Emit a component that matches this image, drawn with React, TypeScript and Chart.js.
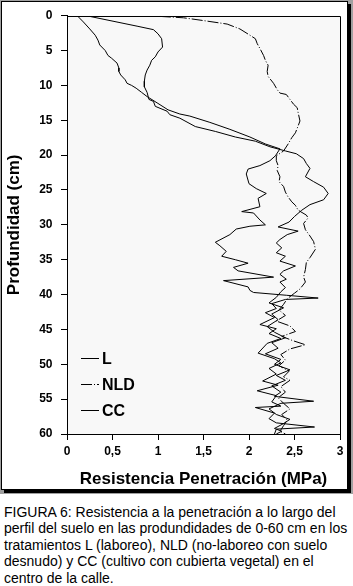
import React, { useEffect, useRef } from "react";
import { Chart, registerables } from "chart.js";

Chart.register(...registerables);

// Series names (legend order)
const seriesNames = ["L", "NLD", "CC"];

// X-axis tick labels (MPa, comma decimal)
const xTickLabels = ["0", "0,5", "1", "1,5", "2", "2,5", "3"];

// Each series: [depth (cm), resistance (MPa)]
const serieL: [number, number][] = [
  [0.1, 0.12], [0.9, 0.18], [1.9, 0.25], [2.8, 0.31], [3.5, 0.34], [4.2, 0.36], [5.0, 0.42],
  [5.7, 0.45], [6.1, 0.49], [6.8, 0.55], [7.5, 0.57], [8.0, 0.57], [8.5, 0.59], [9.2, 0.64],
  [9.7, 0.66], [10.0, 0.71], [10.4, 0.76], [11.0, 0.82], [11.6, 0.88], [12.5, 0.99], [13.5, 1.11],
  [14.1, 1.24], [14.4, 1.35], [15.3, 1.57], [16.3, 1.79], [17.4, 2.01], [18.4, 2.18], [19.1, 2.34],
  [20.1, 2.29], [20.8, 2.23], [21.5, 2.12], [22.0, 1.99], [22.7, 1.97], [24.1, 2.0], [24.8, 2.08],
  [25.5, 2.19], [26.2, 2.1], [27.4, 2.12], [28.1, 1.92], [28.3, 2.05], [29.3, 2.12], [30.0, 2.18],
  [30.2, 2.01], [30.6, 1.86], [31.4, 1.79], [32.5, 1.63], [33.0, 1.68], [33.8, 1.75], [34.5, 1.7],
  [35.0, 1.85], [35.5, 1.99], [36.1, 1.83], [36.6, 1.88], [37.5, 2.27], [38.0, 1.72], [38.9, 1.99],
  [39.4, 2.01], [39.7, 2.05], [40.1, 2.41], [40.5, 2.76], [40.7, 2.4], [41.3, 2.25], [42.0, 2.3],
  [42.6, 2.18], [43.3, 2.28], [44.3, 2.12], [44.9, 2.3], [45.6, 2.22], [46.3, 2.35], [47.0, 2.2],
  [48.4, 2.1], [49.2, 2.28], [49.8, 2.35], [50.6, 2.22], [51.4, 2.3], [52.4, 2.15], [53.0, 2.32],
  [53.8, 2.09], [54.5, 2.3], [55.4, 2.25], [56.0, 2.35], [56.2, 2.07], [57.0, 2.28], [57.8, 2.22],
  [58.4, 2.3], [59.0, 2.72], [59.3, 2.3], [60.0, 2.28],
];

const serieNLD: [number, number][] = [
  [0.1, 1.02], [0.3, 1.28], [0.7, 1.5], [1.2, 1.76], [1.9, 1.9], [2.8, 2.01], [3.3, 2.07],
  [4.0, 2.09], [4.7, 2.12], [5.7, 2.16], [6.4, 2.18], [7.1, 2.21], [8.0, 2.2], [8.7, 2.21],
  [9.7, 2.27], [10.6, 2.31], [11.1, 2.34], [11.3, 2.41], [12.0, 2.45], [12.7, 2.49], [13.2, 2.53],
  [13.9, 2.54], [15.1, 2.56], [15.8, 2.54], [16.8, 2.51], [17.5, 2.47], [18.4, 2.43], [19.4, 2.38],
  [20.1, 2.3], [20.8, 2.3], [21.5, 2.32], [22.2, 2.31], [23.1, 2.34], [23.8, 2.33], [24.5, 2.38],
  [25.3, 2.4], [26.0, 2.43], [26.7, 2.47], [27.2, 2.51], [27.9, 2.54], [28.6, 2.63], [29.0, 2.65],
  [29.8, 2.6], [30.7, 2.62], [31.6, 2.67], [32.4, 2.71], [33.5, 2.73], [34.7, 2.67], [35.4, 2.63],
  [36.4, 2.62], [37.5, 2.6], [38.2, 2.62], [39.2, 2.56], [39.8, 2.5], [40.6, 2.42], [41.4, 2.38],
  [42.2, 2.33], [43.0, 2.4], [43.8, 2.3], [44.5, 2.45], [45.3, 2.51], [46.0, 2.36], [46.6, 2.48],
  [47.2, 2.62], [47.8, 2.45], [48.6, 2.35], [49.4, 2.4], [50.2, 2.33], [51.0, 2.44], [51.8, 2.38],
  [52.3, 2.45], [53.2, 2.35], [54.0, 2.4], [54.8, 2.32], [55.6, 2.38], [56.4, 2.45], [57.2, 2.36],
  [58.0, 2.42], [58.8, 2.38], [59.6, 2.34], [60.0, 2.4],
];

const serieCC: [number, number][] = [
  [0.1, 0.25], [1.5, 0.77], [2.0, 0.95], [2.6, 1.0], [3.3, 1.04], [4.5, 1.05], [5.2, 1.0],
  [5.9, 0.97], [6.4, 0.93], [7.1, 0.91], [7.8, 0.88], [8.5, 0.86], [9.4, 0.85], [10.2, 0.85],
  [11.0, 0.88], [12.0, 0.9], [12.3, 0.95], [13.0, 0.97], [13.7, 1.1], [14.2, 1.13], [14.7, 1.24],
  [15.9, 1.41], [16.6, 1.63], [17.4, 1.85], [18.0, 2.07], [18.8, 2.23], [19.4, 2.4], [19.8, 2.52],
  [20.5, 2.6], [21.2, 2.63], [21.9, 2.67], [23.1, 2.62], [23.8, 2.71], [24.6, 2.82], [25.5, 2.87],
  [26.4, 2.82], [27.1, 2.67], [27.9, 2.58], [28.8, 2.5], [29.6, 2.44], [30.3, 2.32], [30.9, 2.54],
  [31.4, 2.42], [32.1, 2.34], [32.6, 2.3], [33.3, 2.36], [34.0, 2.3], [34.5, 2.4], [35.2, 2.34],
  [35.9, 2.51], [36.6, 2.38], [37.1, 2.34], [37.8, 2.41], [38.2, 2.34], [39.0, 2.4], [39.6, 2.35],
  [40.4, 2.3], [41.2, 2.22], [41.9, 2.38], [42.8, 2.25], [43.6, 2.32], [44.6, 2.2], [45.4, 2.28],
  [46.2, 2.4], [46.9, 2.25], [47.7, 2.32], [48.5, 2.18], [49.3, 2.35], [50.0, 2.28], [50.8, 2.45],
  [51.6, 2.3], [52.3, 2.4], [53.1, 2.25], [54.0, 2.35], [54.6, 2.28], [55.3, 2.71], [55.6, 2.35],
  [56.4, 2.22], [57.2, 2.3], [57.9, 2.45], [58.5, 2.38], [59.2, 2.28], [59.6, 2.36], [60.0, 2.3],
];

const seriesData = [serieL, serieNLD, serieCC];
const seriesDash: number[][] = [[], [11, 2, 1, 2], []];

const FONT = "'Liberation Sans', Arial, sans-serif";

const plotBgPlugin = {
  id: "plotBg",
  beforeDraw(chart: any) {
    const { ctx, chartArea } = chart;
    ctx.save();
    ctx.fillStyle = "#f8f8f8";
    ctx.fillRect(chartArea.left, chartArea.top, chartArea.right - chartArea.left, chartArea.bottom - chartArea.top);
    ctx.restore();
  },
  afterDraw(chart: any) {
    const { ctx, chartArea } = chart;
    ctx.save();
    ctx.strokeStyle = "#000";
    ctx.lineWidth = 1;
    ctx.beginPath();
    ctx.moveTo(Math.round(chartArea.left) + 0.5, Math.round(chartArea.top) + 0.5);
    ctx.lineTo(Math.round(chartArea.right) + 0.5, Math.round(chartArea.top) + 0.5);
    ctx.lineTo(Math.round(chartArea.right) + 0.5, Math.round(chartArea.bottom) + 0.5);
    ctx.stroke();
    ctx.restore();
  },
};

const innerLegendPlugin = {
  id: "innerLegend",
  afterDatasetsDraw(chart: any) {
    const { ctx, chartArea } = chart;
    ctx.save();
    chart.data.datasets.forEach((ds: any, i: number) => {
      const y = Math.round(chartArea.top + 342 + i * 26.2) + 0.5;
      const x0 = chartArea.left + 14;
      ctx.strokeStyle = "#000";
      ctx.lineWidth = 1;
      ctx.setLineDash(ds.borderDash || []);
      ctx.beginPath();
      ctx.moveTo(x0, y);
      ctx.lineTo(x0 + 18, y);
      ctx.stroke();
      ctx.setLineDash([]);
      ctx.fillStyle = "#000";
      ctx.font = `bold 16px ${FONT}`;
      ctx.textBaseline = "middle";
      ctx.textAlign = "left";
      ctx.fillText(ds.label, x0 + 21, y + 1);
    });
    ctx.restore();
  },
};

function FigureChart() {
  const ref = useRef<HTMLCanvasElement | null>(null);
  useEffect(() => {
    if (!ref.current) return;
    const tickFont = { family: FONT, size: 12, weight: "bold" as const };
    const chart = new Chart(ref.current, {
      type: "scatter",
      data: {
        datasets: seriesData.map((s, i) => ({
          label: seriesNames[i],
          data: s.map(([d, v]) => ({ x: v, y: d })),
          showLine: true,
          borderColor: "#000",
          backgroundColor: "#000",
          borderWidth: 1,
          borderDash: seriesDash[i],
          pointRadius: 0,
          pointHoverRadius: 0,
          tension: 0,
          fill: false,
        })),
      },
      options: {
        animation: false,
        responsive: false,
        events: [],
        layout: { padding: { top: 10, right: 13, bottom: 0, left: 0 } },
        plugins: { legend: { display: false }, tooltip: { enabled: false } },
        scales: {
          x: {
            type: "linear",
            position: "bottom",
            min: 0,
            max: 3,
            ticks: {
              stepSize: 0.5,
              autoSkip: false,
              maxRotation: 0,
              color: "#000",
              font: tickFont,
              padding: 4.5,
              callback: (_v: any, i: number) => xTickLabels[i],
            },
            grid: { drawOnChartArea: false, drawTicks: true, tickLength: 6, color: "#000", lineWidth: 1 },
            border: { display: true, color: "#000", width: 1 },
            title: {
              display: true,
              text: "Resistencia Penetración (MPa)",
              color: "#000",
              font: { family: FONT, size: 17, weight: "bold" },
              padding: { top: 0, bottom: 0.8 },
            },
            afterFit: (s: any) => {
              s.height = 56;
            },
          },
          y: {
            type: "linear",
            position: "left",
            min: 0,
            max: 60,
            reverse: true,
            ticks: {
              stepSize: 5,
              autoSkip: false,
              color: "#000",
              font: tickFont,
              padding: 8.5,
            },
            grid: { drawOnChartArea: false, drawTicks: true, tickLength: 6, color: "#000", lineWidth: 1 },
            border: { display: true, color: "#000", width: 1 },
            title: {
              display: true,
              text: "Profundidad (cm)",
              color: "#000",
              font: { family: FONT, size: 17, weight: "bold" },
              padding: { top: 3.8, bottom: 0 },
            },
            afterFit: (s: any) => {
              s.width = 67;
            },
          },
        },
      } as any,
      plugins: [plotBgPlugin, innerLegendPlugin],
    });
    return () => chart.destroy();
  }, []);
  return (
    <canvas
      ref={ref}
      width={353}
      height={490}
      style={{ position: "absolute", left: 0, top: 0, width: 353, height: 490 }}
    />
  );
}

const captionLines = [
  "FIGURA 6: Resistencia a la penetración a lo largo del",
  "perfil del suelo en las produndidades de 0-60 cm en los",
  "tratamientos L (laboreo), NLD (no-laboreo con suelo",
  "desnudo) y CC (cultivo con cubierta vegetal) en el",
  "centro de la calle.",
];

export default function App() {
  useEffect(() => {
    document.body.style.margin = "0";
  }, []);
  return (
    <div style={{ position: "fixed", left: 0, top: 0, width: 353, height: 586, background: "#fff", overflow: "hidden" }}>
      {/* outer gray band */}
      <div style={{ position: "absolute", left: 0, top: 0, width: 353, height: 494, background: "#a0a0a0" }} />
      {/* drop shadow */}
      <div style={{ position: "absolute", left: 4, top: 4, width: 347, height: 489, background: "#000" }} />
      {/* white frame */}
      <div
        style={{
          position: "absolute",
          left: 1,
          top: 1,
          width: 345,
          height: 487,
          background: "#fff",
          border: "1px solid #000",
        }}
      />
      <FigureChart />
      <div
        style={{
          position: "absolute",
          left: 4,
          top: 503.5,
          width: 349,
          fontFamily: FONT,
          fontSize: 14,
          lineHeight: "16.6px",
          color: "#000",
          whiteSpace: "nowrap",
        }}
      >
        {captionLines.map((l, i) => (
          <div key={i}>{l}</div>
        ))}
      </div>
    </div>
  );
}
